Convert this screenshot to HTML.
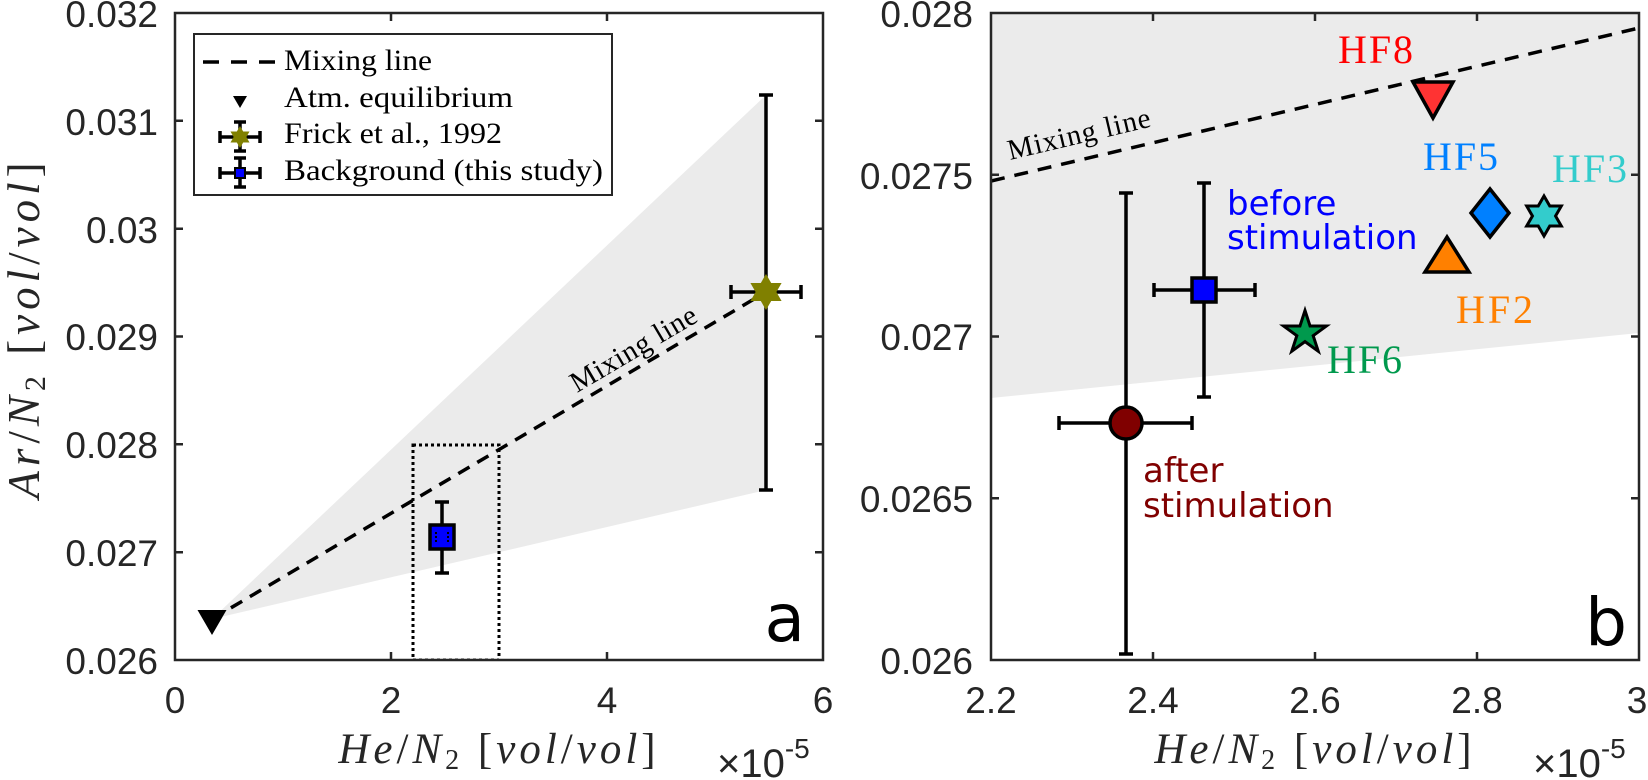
<!DOCTYPE html>
<html><head><meta charset="utf-8"><style>
html,body{margin:0;padding:0;background:#fff;}
svg{display:block;}
.tk{font-family:"Liberation Sans",Arial,sans-serif;font-size:37px;fill:#262626;}
.sf{font-family:"Liberation Serif","Times New Roman",serif;}
.ds{font-family:"DejaVu Sans","Liberation Sans",sans-serif;}
</style></head><body>
<svg width="1648" height="780" viewBox="0 0 1648 780" xmlns="http://www.w3.org/2000/svg">
<defs>
<clipPath id="cl"><rect x="175" y="13" width="648" height="647"/></clipPath>
<clipPath id="cr"><rect x="991" y="13" width="648" height="647"/></clipPath>
</defs>
<rect width="1648" height="780" fill="#fff"/>

<!-- ================= LEFT PANEL ================= -->
<g clip-path="url(#cl)">
<polygon points="212,619 766,95 766,490" fill="#ebebeb"/>
<rect x="413" y="445" width="86" height="215" fill="none" stroke="#000" stroke-width="3" stroke-dasharray="3 3"/>
<line x1="212" y1="619" x2="766" y2="292" stroke="#000" stroke-width="3.5" stroke-dasharray="13 9"/>
<text class="sf" x="577" y="393" transform="rotate(-30.56 577 393)" font-size="29" textLength="142" fill="#000">Mixing line</text>
<!-- Frick -->
<g stroke="#000" stroke-width="3.5">
<line x1="766" y1="95" x2="766" y2="490"/>
<line x1="759" y1="95" x2="773" y2="95"/>
<line x1="759" y1="490" x2="773" y2="490"/>
<line x1="731" y1="292" x2="801" y2="292"/>
<line x1="731" y1="285" x2="731" y2="299"/>
<line x1="801" y1="285" x2="801" y2="299"/>
</g>
<polygon transform="translate(766,292)" points="0,-18 5.2,-9 15.59,-9 10.39,0 15.59,9 5.2,9 0,18 -5.2,9 -15.59,9 -10.39,0 -15.59,-9 -5.2,-9" fill="#808000"/>
<!-- Background -->
<g stroke="#000" stroke-width="3.5">
<line x1="442" y1="502" x2="442" y2="573"/>
<line x1="435" y1="502" x2="449" y2="502"/>
<line x1="435" y1="573" x2="449" y2="573"/>
</g>
<rect x="430" y="525" width="24" height="24" fill="#0000ff" stroke="#000" stroke-width="3.5"/>
<g stroke="#000" stroke-width="2">
<line x1="436" y1="532" x2="436" y2="543" stroke-dasharray="2 2"/>
<line x1="448" y1="532" x2="448" y2="543" stroke-dasharray="2 2"/>
</g>
<!-- Atm -->
<polygon points="197.5,610 226.5,610 212,635" fill="#000"/>
<text class="ds" x="805" y="641" font-size="66" text-anchor="end" fill="#000">a</text>
</g>

<!-- Legend -->
<rect x="194" y="34" width="418" height="161" fill="#fff" stroke="#262626" stroke-width="2"/>
<line x1="203" y1="62" x2="277" y2="62" stroke="#000" stroke-width="3.5" stroke-dasharray="16 12"/>
<polygon points="233,96 247,96 240,108" fill="#000"/>
<g stroke="#000" stroke-width="3.5">
<line x1="220" y1="137" x2="260" y2="137"/>
<line x1="220" y1="131" x2="220" y2="143"/>
<line x1="260" y1="131" x2="260" y2="143"/>
<line x1="240" y1="122" x2="240" y2="151"/>
<line x1="234" y1="122" x2="246" y2="122"/>
<line x1="234" y1="151" x2="246" y2="151"/>
</g>
<polygon transform="translate(240,137)" points="0,-11 3.17,-5.5 9.53,-5.5 6.35,0 9.53,5.5 3.17,5.5 0,11 -3.17,5.5 -9.53,5.5 -6.35,0 -9.53,-5.5 -3.17,-5.5" fill="#808000"/>
<g stroke="#000" stroke-width="3.5">
<line x1="220" y1="173" x2="260" y2="173"/>
<line x1="220" y1="167" x2="220" y2="179"/>
<line x1="260" y1="167" x2="260" y2="179"/>
<line x1="240" y1="158" x2="240" y2="187"/>
<line x1="234" y1="158" x2="246" y2="158"/>
<line x1="234" y1="187" x2="246" y2="187"/>
</g>
<rect x="235" y="168" width="10" height="10" fill="#0000ff" stroke="#000" stroke-width="2"/>
<g class="sf" font-size="30" fill="#000">
<text x="284" y="70" textLength="148" lengthAdjust="spacingAndGlyphs">Mixing line</text>
<text x="284" y="107" textLength="229" lengthAdjust="spacingAndGlyphs">Atm. equilibrium</text>
<text x="284" y="143" textLength="218" lengthAdjust="spacingAndGlyphs">Frick et al., 1992</text>
<text x="284" y="180" textLength="319" lengthAdjust="spacingAndGlyphs">Background (this study)</text>
</g>

<!-- Left axes box & ticks -->
<g stroke="#262626" stroke-width="2.5" fill="none">
<rect x="175" y="13" width="648" height="647"/>
<path d="M391,660v-8 M607,660v-8 M391,13v8 M607,13v8
M175,552.2h8 M175,444.3h8 M175,336.5h8 M175,228.7h8 M175,120.8h8
M823,552.2h-8 M823,444.3h-8 M823,336.5h-8 M823,228.7h-8 M823,120.8h-8"/>
</g>
<g class="tk" text-anchor="end">
<text x="158" y="674">0.026</text>
<text x="158" y="566">0.027</text>
<text x="158" y="458">0.028</text>
<text x="158" y="350">0.029</text>
<text x="158" y="243">0.03</text>
<text x="158" y="135">0.031</text>
<text x="158" y="27">0.032</text>
</g>
<g class="tk" text-anchor="middle">
<text x="175" y="713">0</text>
<text x="391" y="713">2</text>
<text x="607" y="713">4</text>
<text x="823" y="713">6</text>
</g>
<text x="717" y="777" style="font-family:'Liberation Sans',Arial,sans-serif;font-size:40px;fill:#262626">×10<tspan dy="-19" style="font-size:28px">-5</tspan></text>
<text class="sf" x="499" y="763" font-size="43" text-anchor="middle" fill="#262626" letter-spacing="4"><tspan font-style="italic">He</tspan>/<tspan font-style="italic">N</tspan><tspan font-size="28" dy="6">2</tspan><tspan dy="-6"> [</tspan><tspan font-style="italic">vol</tspan>/<tspan font-style="italic">vol</tspan>]</text>
<text class="sf" transform="translate(39,328) rotate(-90)" font-size="45" text-anchor="middle" fill="#262626" letter-spacing="5"><tspan font-style="italic">Ar</tspan>/<tspan font-style="italic">N</tspan><tspan font-size="30" dy="6">2</tspan><tspan dy="-6"> [</tspan><tspan font-style="italic">vol</tspan>/<tspan font-style="italic">vol</tspan>]</text>

<!-- ================= RIGHT PANEL ================= -->
<g clip-path="url(#cr)">
<polygon points="991,13 1639,13 1639,333 991,398" fill="#ebebeb"/>
<line x1="991" y1="181" x2="1639" y2="28" stroke="#000" stroke-width="3.5" stroke-dasharray="14 10"/>
<text class="sf" x="1010" y="160" transform="rotate(-13.3 1010 160)" font-size="29" textLength="146" fill="#000">Mixing line</text>

<!-- after stimulation circle -->
<g stroke="#000" stroke-width="3.5">
<line x1="1126" y1="193" x2="1126" y2="654"/>
<line x1="1119" y1="193" x2="1133" y2="193"/>
<line x1="1119" y1="654" x2="1133" y2="654"/>
<line x1="1059" y1="423" x2="1192" y2="423"/>
<line x1="1059" y1="416" x2="1059" y2="430"/>
<line x1="1192" y1="416" x2="1192" y2="430"/>
</g>
<circle cx="1126" cy="423" r="16" fill="#800000" stroke="#000" stroke-width="3.5"/>

<!-- before stimulation square -->
<g stroke="#000" stroke-width="3.5">
<line x1="1204" y1="183" x2="1204" y2="397"/>
<line x1="1197" y1="183" x2="1211" y2="183"/>
<line x1="1197" y1="397" x2="1211" y2="397"/>
<line x1="1154" y1="290" x2="1255" y2="290"/>
<line x1="1154" y1="283" x2="1154" y2="297"/>
<line x1="1255" y1="283" x2="1255" y2="297"/>
</g>
<rect x="1192" y="278" width="24" height="24" fill="#0000ff" stroke="#000" stroke-width="3.5"/>

<!-- HF markers -->
<polygon points="1413,82 1453,82 1433,118" fill="#ff3333" stroke="#000" stroke-width="3.5" stroke-linejoin="miter"/>
<polygon points="1490,189 1509,213 1490,237 1471,213" fill="#0080ff" stroke="#000" stroke-width="3.5"/>
<polygon transform="translate(1544,216)" points="0,-20 5.77,-10 17.32,-10 11.55,0 17.32,10 5.77,10 0,20 -5.77,10 -17.32,10 -11.55,0 -17.32,-10 -5.77,-10" fill="#33cccc" stroke="#000" stroke-width="3"/>
<polygon points="1447,237 1469,272 1425,272" fill="#ff8000" stroke="#000" stroke-width="3.5"/>
<polygon transform="translate(1305,333)" points="0,-22.5 5.05,-6.96 21.4,-6.95 8.18,2.66 13.23,18.2 0,8.6 -13.23,18.2 -8.18,2.66 -21.4,-6.95 -5.05,-6.96" fill="#00994d" stroke="#000" stroke-width="3"/>

<!-- labels -->
<g class="sf" font-size="40">
<text x="1338" y="63" textLength="75" fill="#ff0000">HF8</text>
<text x="1423" y="170" textLength="75" fill="#0080ff">HF5</text>
<text x="1552" y="182" textLength="75" fill="#33cccc">HF3</text>
<text x="1456" y="323" textLength="77" fill="#ff8000">HF2</text>
<text x="1327" y="373" textLength="75" fill="#00994d">HF6</text>
</g>
<g class="ds" font-size="34" fill="#0000ff">
<text x="1227" y="215">before</text>
<text x="1227" y="249">stimulation</text>
</g>
<g class="ds" font-size="34" fill="#800000">
<text x="1143" y="482">after</text>
<text x="1143" y="517">stimulation</text>
</g>
<text class="ds" x="1627" y="645" font-size="66" text-anchor="end" fill="#000">b</text>
</g>

<!-- Right axes box & ticks -->
<g stroke="#262626" stroke-width="2.5" fill="none">
<rect x="991" y="13" width="648" height="647"/>
<path d="M1153,660v-8 M1315,660v-8 M1477,660v-8 M1153,13v8 M1315,13v8 M1477,13v8
M991,498.25h8 M991,336.5h8 M991,174.75h8
M1639,498.25h-8 M1639,336.5h-8 M1639,174.75h-8"/>
</g>
<g class="tk" text-anchor="end">
<text x="973" y="674">0.026</text>
<text x="973" y="512">0.0265</text>
<text x="973" y="350">0.027</text>
<text x="973" y="189">0.0275</text>
<text x="973" y="27">0.028</text>
</g>
<g class="tk" text-anchor="middle">
<text x="991" y="713">2.2</text>
<text x="1153" y="713">2.4</text>
<text x="1315" y="713">2.6</text>
<text x="1477" y="713">2.8</text>
<text x="1637" y="713">3</text>
</g>
<text x="1533" y="777" style="font-family:'Liberation Sans',Arial,sans-serif;font-size:40px;fill:#262626">×10<tspan dy="-19" style="font-size:28px">-5</tspan></text>
<text class="sf" x="1315" y="763" font-size="43" text-anchor="middle" fill="#262626" letter-spacing="4"><tspan font-style="italic">He</tspan>/<tspan font-style="italic">N</tspan><tspan font-size="28" dy="6">2</tspan><tspan dy="-6"> [</tspan><tspan font-style="italic">vol</tspan>/<tspan font-style="italic">vol</tspan>]</text>
</svg>
</body></html>
